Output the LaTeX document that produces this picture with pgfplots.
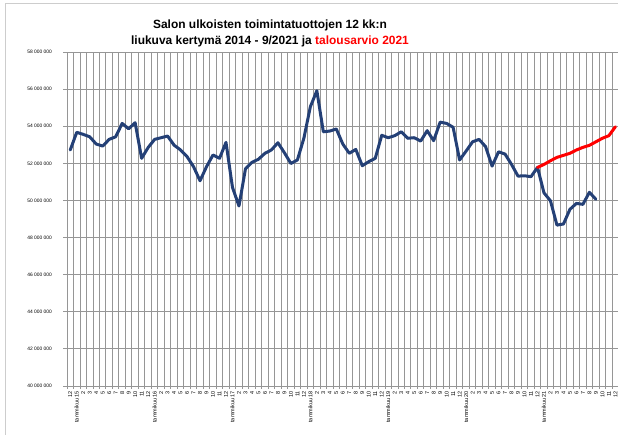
\documentclass[border=0pt]{standalone}
\usepackage{pgfplots}
\pgfplotsset{compat=1.18}
\usepackage{fontspec}
\setmainfont{Liberation Sans}
\definecolor{navy}{RGB}{36,64,118}
\definecolor{gridgray}{RGB}{150,150,150}
\definecolor{framegray}{RGB}{205,205,205}
\pgfplotstableread{
i val
0 52.72
1 53.67
2 53.56
3 53.43
4 53.04
5 52.93
6 53.29
7 53.43
8 54.15
9 53.86
10 54.19
11 52.27
12 52.85
13 53.29
14 53.38
15 53.47
16 52.98
17 52.72
18 52.36
19 51.82
20 51.06
21 51.82
22 52.45
23 52.27
24 53.13
25 50.70
26 49.70
27 51.70
28 52.05
29 52.22
30 52.54
31 52.72
32 53.11
33 52.57
34 51.99
35 52.18
36 53.35
37 55.05
38 55.91
39 53.70
40 53.74
41 53.85
42 53.04
43 52.54
44 52.75
45 51.87
46 52.09
47 52.27
48 53.51
49 53.38
50 53.49
51 53.70
52 53.35
53 53.38
54 53.20
55 53.76
56 53.22
57 54.22
58 54.15
59 53.94
60 52.18
61 52.66
62 53.16
63 53.29
64 52.90
65 51.85
66 52.62
67 52.50
68 51.94
69 51.31
70 51.33
71 51.28
72 51.78
73 50.41
74 49.98
75 48.67
76 48.73
77 49.52
78 49.84
79 49.79
80 50.44
81 50.06
}\actual
\pgfplotstableread{
i val
72 51.78
73 51.94
74 52.14
75 52.32
76 52.43
77 52.54
78 52.72
79 52.86
80 52.97
81 53.16
82 53.35
83 53.49
84 53.97
}\budget
\begin{document}
\begin{tikzpicture}[x=1bp,y=1bp]
\path[use as bounding box] (0,0) rectangle (618,435);
\draw[framegray, line width=0.8bp] (5,0) -- (5,432) -- (618,432);
\node[align=center, font=\fontsize{12}{16.5}\selectfont\bfseries] at (270,401.5)
  {Salon ulkoisten toimintatuottojen 12 kk:n\\liukuva kertymä 2014 - 9/2021 ja \textcolor{red}{talousarvio 2021}};
\begin{axis}[
  at={(67bp,49bp)}, anchor=south west,
  scale only axis, width=551.6bp, height=334bp,
  xmin=-0.5, xmax=84.5, ymin=40, ymax=58,
  axis x line*=bottom, axis y line*=left,
  axis line style={gridgray, line width=0.9bp},
  ytick={40,42,...,58},
  yticklabels={40 000 000,42 000 000,44 000 000,46 000 000,48 000 000,50 000 000,52 000 000,54 000 000,56 000 000,58 000 000},
  ymajorgrids,
  major grid style={gridgray, line width=0.9bp},
  xtick={0,...,84},
  xticklabels={12,
    tammikuu 15,2,3,4,5,6,7,8,9,10,11,12,
    tammikuu 16,2,3,4,5,6,7,8,9,10,11,12,
    tammikuu 17,2,3,4,5,6,7,8,9,10,11,12,
    tammikuu 18,2,3,4,5,6,7,8,9,10,11,12,
    tammikuu 19,2,3,4,5,6,7,8,9,10,11,12,
    tammikuu 20,2,3,4,5,6,7,8,9,10,11,12,
    tammikuu 21,2,3,4,5,6,7,8,9,10,11,12},
  major x tick style={draw=none},
  minor xtick={-0.5,0.5,...,84.5},
  xminorgrids,
  minor grid style={gridgray, line width=0.9bp},
  tick align=outside,
  major tick length=4bp, minor tick length=3bp,
  tick style={gridgray, line width=0.9bp},
  xticklabel style={rotate=90, anchor=east, font=\fontsize{5.5}{6}\selectfont, inner sep=1bp},
  yticklabel style={font=\fontsize{4.9}{5}\selectfont, inner sep=0pt, xshift=-11bp},
  clip=false,
]
\addplot[navy, line width=3bp, line join=round, line cap=round] table[x=i,y=val] {\actual};
\addplot[red, line width=3bp, line join=round, line cap=round] table[x=i,y=val] {\budget};
\end{axis}
\end{tikzpicture}
\end{document}
